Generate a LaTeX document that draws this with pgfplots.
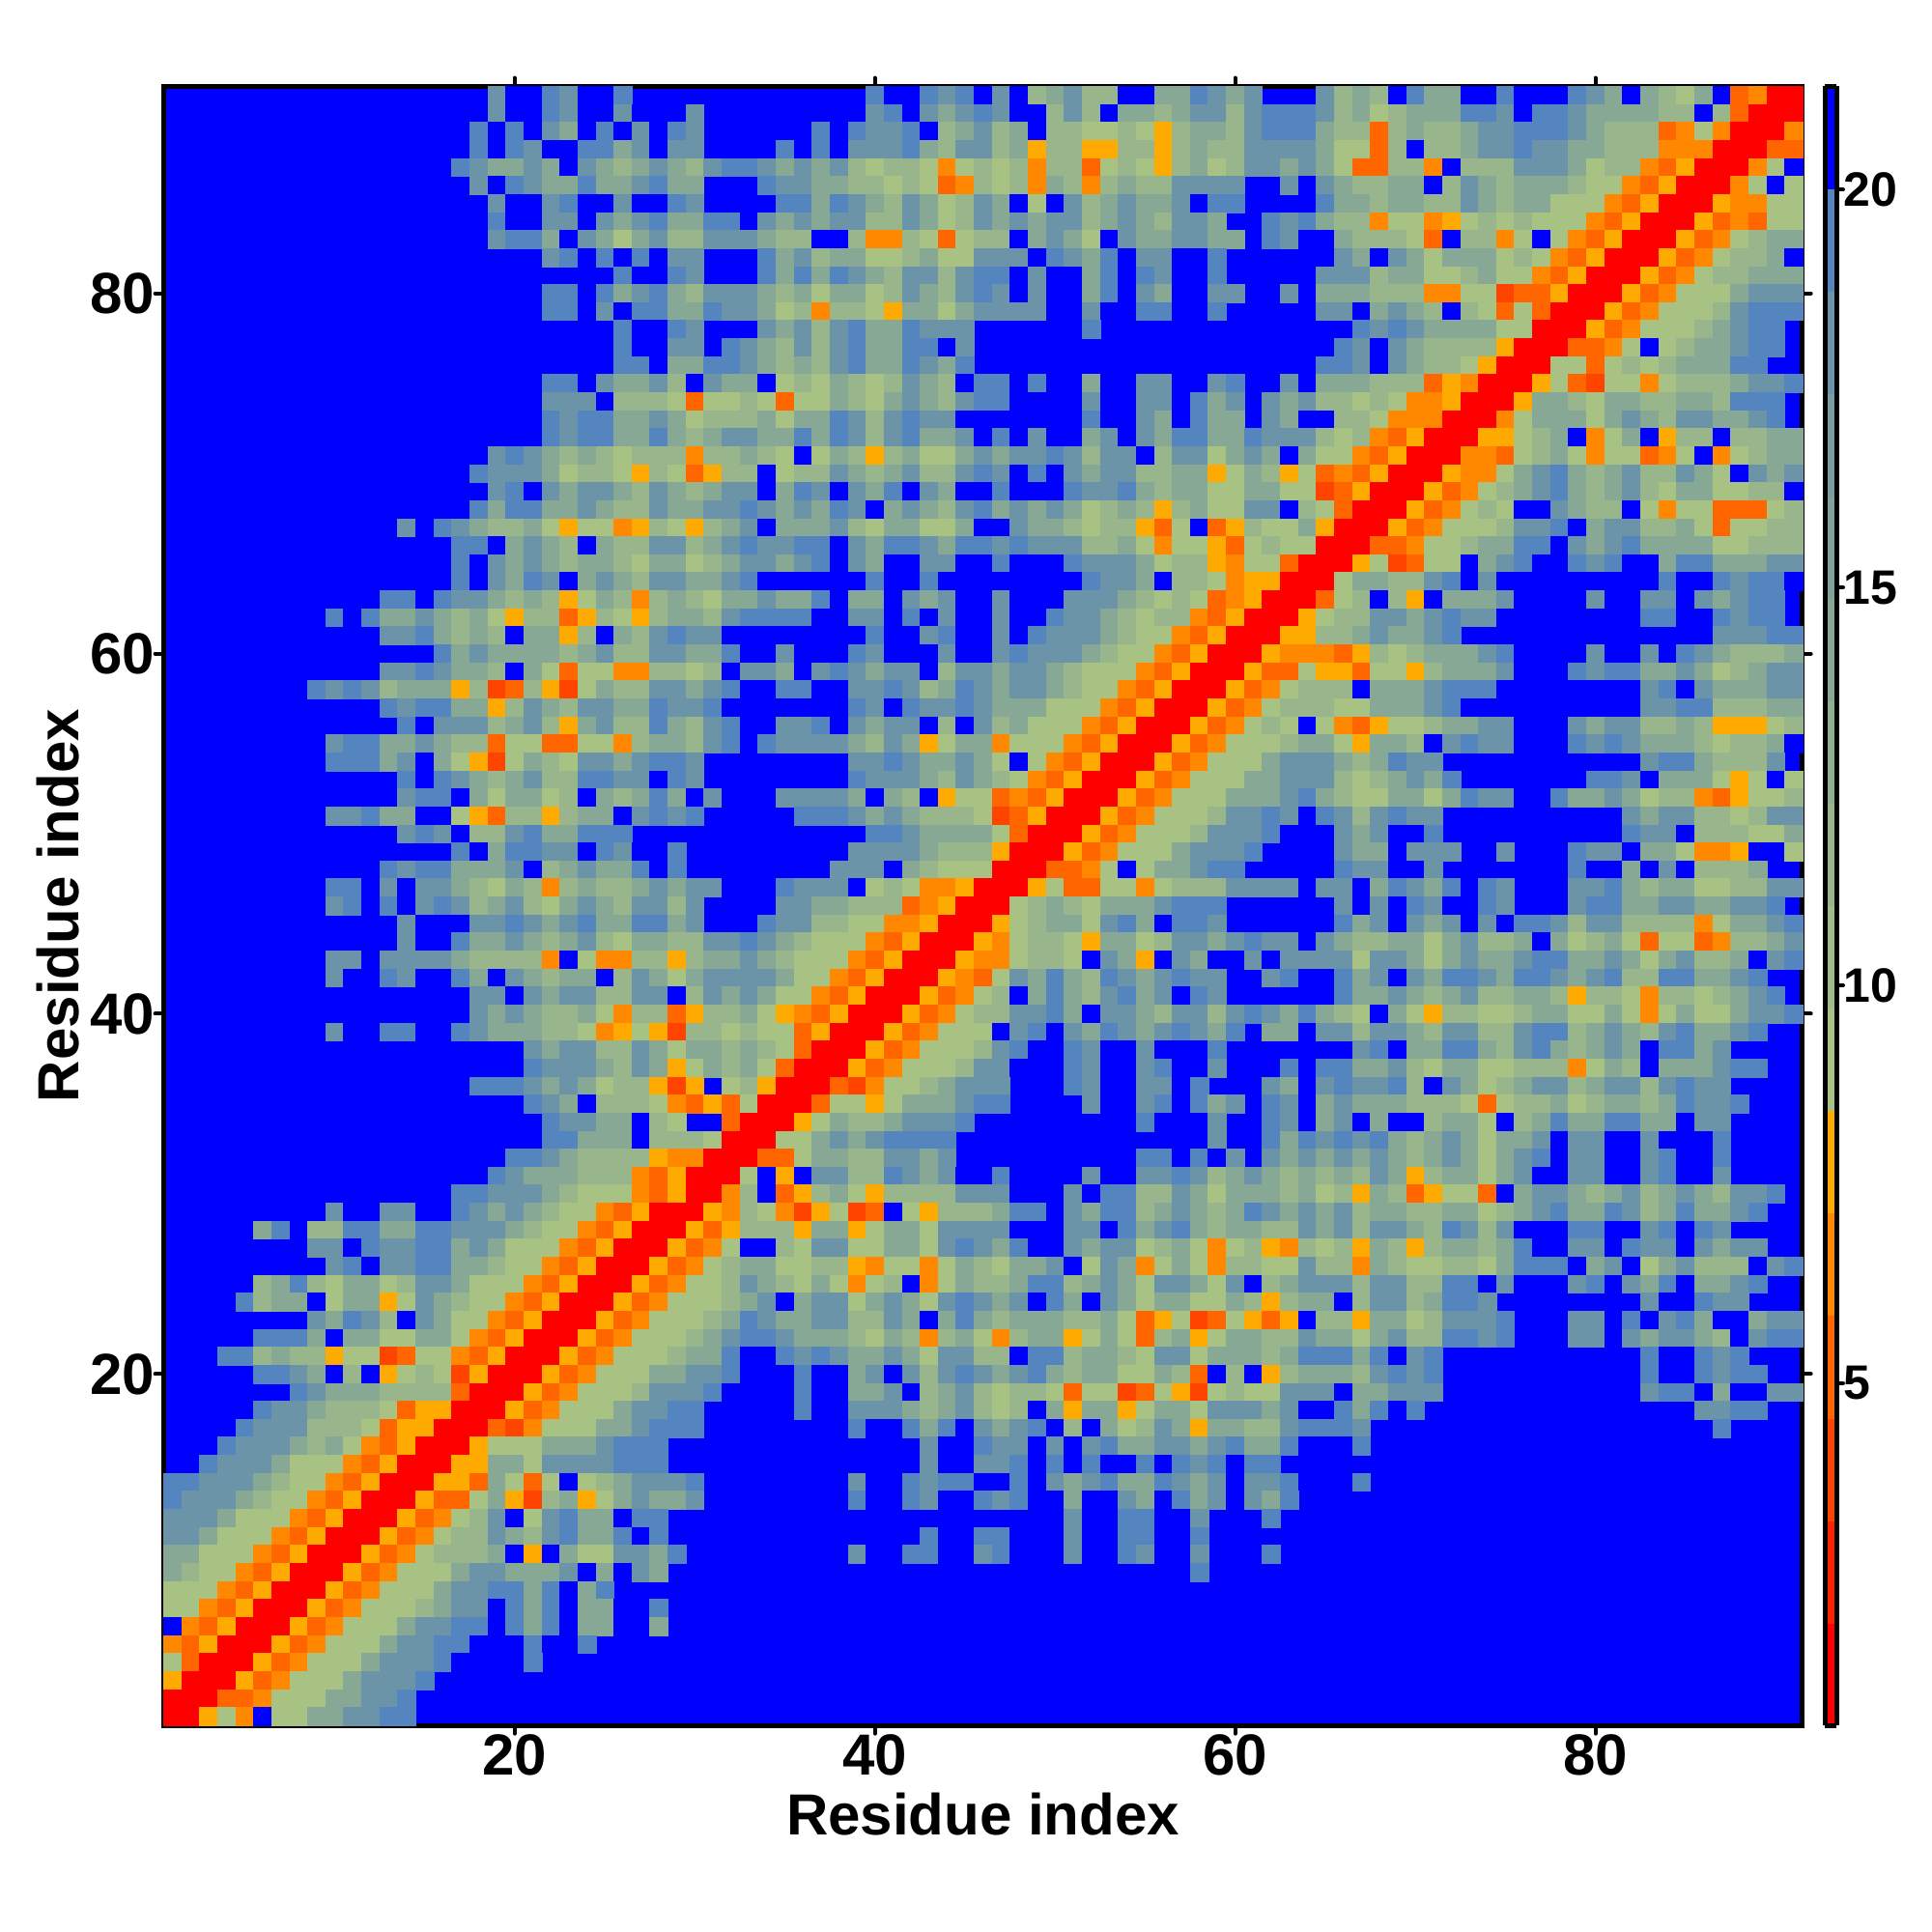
\documentclass[border=0pt]{standalone}
\usepackage{fontspec}
\setmainfont{Liberation Sans}
\usepackage{pgfplots}
\pgfplotsset{compat=1.18}

% one run of cells of a row: \R{residue y}{first residue x}{values}
% cells not listed are > 20 and show the blue axis background
\newcount\cx
\def\Rloop#1 {\ifx\relax#1\else\xdef\pts{\pts(\the\cx,\ry)[#1]}\advance\cx by 1 \expandafter\Rloop\fi}
\newcommand\R[3]{\def\ry{#1}\cx=#2\relax\gdef\pts{}\Rloop#3 \relax {}%
  \edef\cmd{\noexpand\addplot[cell] coordinates {\pts};}\cmd}

\pgfplotsset{
  cell/.style={forget plot, scatter, only marks, mark=square*, mark size=2.80pt,
    scatter/use mapped color={draw=mapped color, fill=mapped color},
    point meta=explicit, mark options={line width=0.1pt}},
}
\definecolor{fold}{RGB}{0,0,255}

\begin{document}
\begin{tikzpicture}
\path[use as bounding box] (-50.76pt,-64.2pt) rectangle ++(600pt,600pt);
\begin{axis}[
  at={(0,0)}, anchor=south west,
  scale only axis, width=509.04pt, height=509.04pt,
  xmin=0.5, xmax=91.5, ymin=0.5, ymax=91.5,
  axis on top,
  axis background/.style={fill=fold},
  axis line style={line width=1.5pt},
  xtick={20,40,60,80}, ytick={20,40,60,80},
  tick align=outside, tick pos=both,
  xticklabel pos=bottom, yticklabel pos=left,
  major tick length=2.6pt,
  tick style={line width=1.2pt, line cap=round, black},
  /pgf/number format/assume math mode=true,
  tick label style={font=\bfseries\fontsize{18}{18}\selectfont, inner sep=0pt},
  label style={font=\bfseries\fontsize{18}{18}\selectfont, inner sep=0pt},
  xlabel={Residue index}, ylabel={Residue index},
  xlabel style={at={(axis description cs:0.5,0)}, anchor=north, yshift=-20.8pt},
  ylabel style={at={(axis description cs:0,0.5)}, anchor=south, yshift=25.9pt},
  colormap={contact}{
    rgb255=(255,0,0) rgb255=(255,34,0) rgb255=(255,68,0) rgb255=(255,102,0)
    rgb255=(255,136,0) rgb255=(255,170,0) rgb255=(168,194,132) rgb255=(160,188,136)
    rgb255=(152,181,140) rgb255=(144,174,145) rgb255=(136,168,150) rgb255=(128,162,154)
    rgb255=(120,156,159) rgb255=(108,148,168) rgb255=(85,133,190) rgb255=(0,0,255)},
  colormap access=piecewise constant,
  point meta min=0.7, point meta max=21.3,
  colorbar sampled,
  colorbar style={
    samples=17,
    at={(1.01375,0)}, anchor=south west,
    width=3.6pt, height=509.04pt,
    axis line style={line width=1.5pt},
    ytick={5,10,15,20}, yticklabel pos=right, ytick pos=right,
    tick align=outside, major tick length=2pt,
    tick style={line width=1.2pt, line cap=round, black},
    /pgf/number format/assume math mode=true,
    yticklabel style={font=\bfseries\fontsize{15}{15}\selectfont, inner sep=0pt},
  },
]
\R{91}{19}{18 21 21 19 18 21 21 19}
\R{91}{40}{19 21 21 19 18 19 21 18 21 11 14 18 11 11 21 21 14 14 19 18 14 18}
\R{91}{65}{18 11 14 11 21 19 14 14 21 21 19 21 21 21 19 18 14 21 14 11 9 14 21 5 7 1 1}
\R{90}{19}{18 21 21 19 18 21 21 18 21 21 21 18}
\R{90}{40}{18 19 21 18 14 18 19 18 21 21 11 18 11 21 14 14 11 14 18 18 11 18}
\R{90}{62}{19 19 19 18 11 14 9 11 14 14 14 19 19 18 21 19 19 18 14 14 14 14 11 11 21 11 5 1 1 1}
\R{89}{18}{19 21 19 21 18 14 21 19 21 18 21 19 18}
\R{89}{37}{19 21 19 18 18 19 21 11 14 18 11 14 21 11 11 9 9 11 9 8 11 14 14 11 18}
\R{89}{62}{19 19 19 14 11 11 5 11 14 11 11 14 18 18 19 19 19 18 14 11 11 11 5 7 9 7 1 1 1 7}
\R{88}{18}{19 21 19 18 21 21 19 19 14 18 21 18 18}
\R{88}{35}{19 21 19 21 18 18 18 19 14 11 18 18 11 14 8 11 11 8 8 11 11 8 11 14 11 11 18}
\R{88}{62}{18 18 18 14 9 9 5 11 21 11 11 14 18 18 19 18 18 14 14 11 11 11 7 7 7 1 1 1 5 5}
\R{87}{17}{19 18 14 14 18 14 21 18 14 11 14 18 14 11}
\R{87}{31}{18 19 19 18 14 18 14 18 11 9 11 11 9 7 9 11 9 11 7 11 11 5 9 11 9 8 11 14 9 11 18}
\R{87}{62}{18 14 18 14 9 5 5 11 11 7 21 11 11 11 18 18 18 14 9 11 11 7 5 8 1 1 1 7 9 21}
\R{86}{18}{18 21 19 18 14 14 19 14 14 18 19 14 14}
\R{86}{34}{19 18 18 14 14 11 11 9 11 9 5 7 11 9 11 7 14 11 7 11 14 11 11 18 18 18 18}
\R{86}{63}{18 21 18 14 11 11 14 14 21 11 18 14 11 14 14 14 11 9 9 7 5 8 1 1 1 7 9 21 9}
\R{85}{19}{18 21 21 18 19 21 21 18 21 21 19 18}
\R{85}{35}{19 19 14 19 18 14 11 18 14 9 11 18 14 21 9 21 18 11 14 18 14 14 18 21 19 19}
\R{85}{65}{19 14 14 11 14 14 11 11 18 14 11 14 14 9 9 9 7 5 8 1 1 1 8 7 7 9 9}
\R{84}{19}{19 21 21 18 18 21 18 14 18 19 14 14}
\R{84}{31}{19 19 21 18 14 18 14 18 18 11 11 18 14 9 11 18 14 18 14 18 18 11 14 18 14 11 18 18 14}
\R{84}{62}{19 18 19 14 11 11 7 9 9 7 8 9 11 9 11 9 9 9 7 5 8 1 1 1 8 5 7 5 9 9}
\R{83}{19}{18 19 19 14 21 18 14 9 14 18 11 11}
\R{83}{31}{18 18 18 14 11 11 21 21 11 7 7 11 9 5 9 11 11 21 14 18 14 9 21 18 14 14 18 18 14 14}
\R{83}{62}{19 18 21 21 14 11 11 11 9 5 21 11 11 7 9 21 9 7 5 8 1 1 1 8 5 7 9 11 14 14}
\R{82}{22}{18 19 21 19 21 19 21 18 18}
\R{82}{34}{19 14 18 11 14 14 9 9 11 14 9 9 18 18 18 21 19 18 14 19 21 18 18 21 21 19}
\R{82}{66}{18 14 21 18 14 9 14 14 14 9 11 9 7 5 8 1 1 1 8 5 7 9 11 11 14 21}
\R{81}{26}{19 21 21 19 18}
\R{81}{34}{19 14 19 14 19 18 14 11 18 18 11 18 19 19 21 18 21 21 14 19 21 19 18 21 21 19}
\R{81}{65}{18 18 18 11 14 14 9 9 11 14 9 9 7 5 8 1 1 1 8 5 7 9 11 11 14 14 14}
\R{80}{22}{19 19 21 19 14 18 19 14 11}
\R{80}{31}{18 18 18 14 11 14 9 14 14 9 11 18 14 11 18 19 18 21 18 21 21 14 19 21 18 14 21 21 18 18}
\R{80}{63}{18 21 14 14 14 11 11 11 7 7 9 9 4 5 5 8 1 1 1 8 5 7 9 9 9 14 18 18 18}
\R{79}{22}{19 19 21 18 21 19 19 14 14}
\R{79}{31}{19 18 18 14 9 11 7 11 11 9 8 14 14 9 14 18 18 18 18 21 21 18 21 21 19 19 21 21 19}
\R{79}{65}{18 18 21 14 18 14 11 21 11 9 5 9 5 1 1 1 8 5 7 9 9 9 11 18 19 19 19}
\R{78}{26}{19 21 21 19 18}
\R{78}{34}{18 14 18 11 18 19 14 14 19 18 18 18}
\R{78}{52}{19}
\R{78}{67}{19 18 19 18 14 14 14 14 9 9 1 1 1 8 5 7 9 9 9 11 14 18 19 19}
\R{77}{26}{19 21 21 18 18}
\R{77}{32}{19 18 14 11 18 11 18 19 14 14 19 19 21 18}
\R{77}{66}{19 18 21 18 14 11 11 11 11 8 1 1 1 5 5 7 9 21 9 11 14 14 18 19 19}
\R{76}{26}{19 19 21 14 14}
\R{76}{31}{19 19 18 14 11 14 11 18 19 14 14 19 18 14 19}
\R{76}{65}{19 19 18 21 18 14 11 11 9 8 1 1 1 9 9 5 9 11 9 11 14 14 14 19 19}
\R{75}{22}{19 19 21 18 14 14 18 11 21}
\R{75}{31}{18 14 14 21 9 11 9 14 11 9 11 18 14 11 21 19 19 21 19 21 21 14 21 21 18 18 21 21 18 19}
\R{75}{63}{18 21 14 14 14 11 11 11 5 8 7 1 1 1 8 9 5 4 9 9 7 9 11 11 11 14 18 18 19}
\R{74}{22}{18 18 18 21 11 11 11 9 5}
\R{74}{31}{9 9 11 9 5 9 9 14 11 9 14 18 14 11 18 19 19 21 21 21 21 18 21 21 18 18 21 19 14 18}
\R{74}{62}{18 14 18 11 11 9 11 9 7 7 8 1 1 1 8 14 14 11 9 14 14 11 11 14 14 11 19 19 19}
\R{73}{22}{19 18 19 19 14 14 18 14 9}
\R{73}{31}{11 11 11 14 9 14 14 19 18 11 18 19 18 18 21 21 21 21 21 21 21 19 21 21 18 14 21 19 14 14}
\R{73}{62}{18 14 21 21 11 11 9 7 7 7 1 1 1 7 9 14 14 14 9 14 18 14 11 18 18 14 14 18 19}
\R{72}{22}{19 18 19 19 14 14 19 14 11}
\R{72}{31}{14 18 18 14 14 19 14 19 18 11 18 19 14 14 18 21 19 21 18 21 21 14 18 21 18 14 19 19 14 14 19}
\R{72}{62}{18 18 18 11 9 11 7 5 8 1 1 1 8 8 9 11 14 21 7 9 14 21 8 11 11 21 11 11 14 14}
\R{71}{19}{18 19 18 14 11 14 11 9 11 11 11 7}
\R{71}{31}{11 11 14 11 9 21 9 14 11 8 11 14 9 9 14 18 14 18 18 19 18 11 18 18 21 11 18 18 9 14 18}
\R{71}{62}{14 21 14 9 9 7 5 8 1 1 1 7 7 5 9 11 14 9 7 9 9 5 7 9 21 7 9 11 14 14}
\R{70}{18}{19 18 18 18 14 9 11 11 9 8 11 9 5}
\R{70}{31}{8 11 11 21 9 11 11 18 14 11 14 18 11 11 18 19 18 21 19 21 18 14 18 18 11 11 14 14 8 9 14}
\R{70}{62}{11 8 9 5 7 5 8 1 1 1 8 7 7 9 14 18 19 14 11 14 18 11 11 18 14 9 21 18 14 18}
\R{69}{19}{18 19 21 18 14 18 18 14 11 18 14 11}
\R{69}{31}{14 18 18 21 14 19 18 21 18 14 19 21 18 14 21 21 19 21 21 21 19 18 18 19 14 11 14 14 9 9 14}
\R{69}{62}{14 9 9 4 5 8 1 1 1 8 5 7 9 11 14 18 19 14 11 14 18 11 9 14 14 9 9 11 11 21}
\R{68}{18}{19 14 19 19 14 14 18 14 11 11 18 14 14}
\R{68}{31}{18 18 19 18 14 18 14 19 18 21 14 18 14 11 18 19 14 18 14 18 14 9 11 14 11 8 11 14 9 9 18}
\R{68}{62}{18 21 11 9 5 1 1 1 8 5 7 9 11 9 21 21 18 14 11 11 21 9 7 9 9 5 5 5 9 11}
\R{67}{14}{18 21 19 18 14 11 11 14 9 8 9 9 7 8 11 9 8}
\R{67}{31}{11 14 18 21 14 14 14 18 11 9 14 14 9 9 14 21 21 18 14 14 11 9 11 11 8 5 9 21 5 8 11}
\R{67}{62}{9 9 14 8 1 1 1 8 5 7 9 9 9 11 18 18 19 21 14 18 18 11 11 14 9 5 9 9 11 11}
\R{66}{17}{19 19 21 14 18 14 11 21 14 11 11 18 18 11}
\R{66}{31}{14 18 19 18 18 19 19 21 18 14 19 19 18 14 19 19 18 19 18 18 18 11 11 14 9 7 9 9 8 5 9}
\R{66}{62}{11 9 9 1 1 1 5 5 7 9 9 11 14 14 19 19 21 18 14 18 19 14 14 14 14 9 9 11 11 11}
\R{65}{17}{19 21 18 14 18 14 11 14 14 11 9 14 14 9}
\R{65}{31}{11 14 18 18 14 18 19 21 18 14 21 21 18 18 21 21 19 21 21 21 19 18 18 18 14 9 11 11 8 7 9}
\R{65}{62}{9 5 1 1 1 8 9 4 5 9 9 21 14 18 19 21 21 19 18 19 21 21 14 19 19 14 14 14 18 18}
\R{64}{17}{19 21 18 14 19 18 21 14 18 14 11 18 18 14}
\R{64}{31}{14 18 19 21 21 21 21 21 21 19 21 21 19 21 21 21 21 21 21 21 21 19 18 18 14 21 11 11 9 7 8}
\R{64}{62}{8 1 1 1 9 14 14 11 11 18 19 21 18 21 21 21 21 21 21 21 21 21 19 21 21 19 18 19 19 21}
\R{63}{13}{19 19 21 19 18 18 14 11 14 11 8 9 14 11 7 11 14 11}
\R{63}{31}{9 14 14 18 14 14 19 21 14 14 21 18 14 18 21 21 18 21 21 21 18 18 18 14 11 9 11 9 5 7 8}
\R{63}{62}{1 1 1 5 9 11 21 11 8 21 14 14 14 18 21 21 21 21 18 21 21 18 18 21 18 14 18 19 19}
\R{62}{10}{19 21 19 14 14 18 14 11 14 9 8 11 11 5 8 11 9 8 11 14 14}
\R{62}{31}{11 18 19 19 19 19 21 21 18 18 21 19 21 18 21 21 18 21 21 19 18 18 14 11 9 11 11 7 5 8 1}
\R{62}{62}{1 1 8 9 11 11 18 18 14 18 19 18 18 21 21 21 21 21 21 21 21 19 19 21 21 19 18 19 19}
\R{61}{13}{18 18 19 14 11 14 11 21 14 14 8 11 21 14 11 18 19 18}
\R{61}{31}{18 21 21 21 21 21 21 21 21 19 21 21 18 19 21 21 18 21 19 18 18 18 14 11 9 9 7 5 8 1 1}
\R{61}{62}{1 8 8 11 11 14 18 14 14 18 19}
\R{61}{87}{18 18 18 19 19}
\R{60}{16}{19 14 18 14 14 14 14 11 14 18 11 11 18 18 14}
\R{60}{31}{14 19 21 21 18 21 21 21 19 18 21 21 21 18 21 21 18 19 18 18 18 14 11 9 9 7 5 8 1 1 1}
\R{60}{62}{8 7 7 7 5 8 11 9 11 14 14 14 18 19 21 21 21 21 18 21 21 18 21 19 18 14 11 11 11 14}
\R{59}{13}{18 18 19 18 14 14 11 21 14 9 5 9 9 7 7 11 11 9}
\R{59}{31}{11 21 18 18 14 21 18 19 18 14 18 18 21 11 18 18 14 18 18 14 11 9 9 9 7 5 8 1 1 1 8}
\R{59}{62}{5 5 9 8 8 5 9 9 8 11 14 14 14 18 21 21 21 19 18 19 19 14 14 18 14 9 11 14 18 18}
\R{58}{9}{19 18 19 18 11 14 14 14 8 11 4 5 11 8 4 9 14 11 11 18 18 14}
\R{58}{31}{18 19 21 21 19 19 21 21 18 18 19 18 11 14 19 18 14 18 18 14 11 9 9 7 5 8 1 1 1 8 5}
\R{58}{62}{7 9 11 11 11 21 14 14 14 18 19 19 19 21 21 21 21 21 21 21 21 18 19 21 18 14 14 14 18 18}
\R{57}{13}{19 18 19 19 14 14 8 11 18 14 11 18 18 14 14 19 18 18}
\R{57}{31}{19 21 21 21 21 21 21 21 19 18 21 19 18 18 19 18 14 14 14 9 9 9 7 5 8 1 1 1 8 5 7}
\R{57}{62}{9 11 11 11 9 9 14 14 14 18 19 21 21 21 21 21 21 21 21 21 21 18 18 19 19 11 11 11 14 14}
\R{56}{14}{19 21 18 18 18 11 14 18 11 8 14 18 11 11 19 14 11}
\R{56}{31}{18 19 21 21 18 18 19 21 18 14 18 18 21 11 21 18 11 14 9 9 9 7 5 8 1 1 1 8 5 7 9}
\R{56}{62}{11 9 21 9 7 5 8 9 9 11 14 14 18 18 21 21 21 18 14 18 18 11 11 14 11 8 8 8 9 11}
\R{55}{10}{18 19 19 14 14 18 14 11 11 5 9 9 5 5 9 9 7 11 14 14 11}
\R{55}{31}{18 19 21 19 18 18 18 18 14 11 18 14 8 9 14 14 7 9 9 9 7 5 8 1 1 1 8 5 7 9 9}
\R{55}{62}{9 11 14 14 9 8 14 14 11 21 18 19 18 18 21 21 21 19 18 19 18 14 14 14 11 9 11 11 14 21}
\R{54}{10}{19 19 19 14 18 21 14 9 8 4 9 14 11 9 18 18 14 18 19 19 18}
\R{54}{39}{18 18 19 18 14 14 18 14 9 21 9 7 5 8 1 1 1 8 5 7 9 9 9}
\R{54}{62}{14 18 18 18 14 11 14 19 18 18}
\R{54}{83}{18 19 19 14 11 11 11 18}
\R{53}{14}{19 21 19 18 14 11 14 18 11 11 19 19 18 18 21 19 18}
\R{53}{39}{19 18 18 18 14 11 18 14 11 9 7 5 8 1 1 1 8 5 7 9 9 9 14}
\R{53}{62}{14 18 18 18 11 9 11 14 18 14 19}
\R{53}{80}{19 19 18 21 14 14 14 9 8 9 21 9}
\R{52}{14}{18 19 19 21 14 9 14 14 9 11 21 14 11 14 19 14 21}
\R{52}{31}{18 21 21 21 18 18 18 18 14 21 14 11 21 8 9 9 5 7 5 8 1 1 1 8 5 7 9 9 9 14 14}
\R{52}{62}{14 18 19 14 11 9 9 14 14 9 14 19 18 18 21 21 19 14 14 18 14 9 11 11 7 5 8 9 9 11}
\R{51}{10}{18 18 19 14 14 21 21 9 8 5 11 11 8 11 14 14 21 18 19 18 19}
\R{51}{36}{19 19 19 18 14 18 14 11 11 11 9 4 5 8 1 1 1 8 5 7 9 9 9 11 18 18}
\R{51}{62}{19 18 21 19 18 11 18 19 18 18}
\R{51}{82}{18 14 18 18 11 11 9 11 18 18}
\R{50}{14}{18 19 18 21 11 11 18 19 14 14 19 19 19}
\R{50}{40}{19 19 18 14 14 14 14 9 5 1 1 1 8 5 7 9 9 9 11 18 18 18}
\R{50}{62}{19 21 21 21 18 14 18 21 21 19}
\R{50}{82}{19 18 18 21 11 11 11 9 9 14}
\R{49}{17}{19 21 14 19 19 18 18 21 19 18 21 21 19}
\R{49}{39}{18 18 18 18 14 11 11 11 8 1 1 1 8 5 7 9 9 9 14 18 18 18 19}
\R{49}{66}{18 14 14 21 18 18 18}
\R{49}{75}{18}
\R{49}{79}{19 18 18 21 14 14 9 7 7 8 21 21 9}
\R{48}{13}{19 18 19 19 14 14 14 18 21 11 14 18 14 14 19 21 19}
\R{48}{38}{18 18 18 21 14 11 9 9 9 1 1 1 5 5 7 9 21 9 14 14 18 19 19}
\R{48}{66}{19 18 18 21 21 18}
\R{48}{79}{19 21 21 14 21 18 21 11 11 11 14}
\R{47}{10}{19 19 21 18 21 18 18 14 11 9 14 11 7 11 14 11 11 14 18 14 18}
\R{47}{31}{18 21 21 21 19 18 18 18 21 9 11 9 7 7 8 1 1 1 8 9 5 5 9 9 7 9 11 11 11 18 18}
\R{47}{62}{18 18 21 18 18 21 14 19 18 14 19 21 19 18}
\R{47}{79}{18 18 19 14 11 14 14 9 9 11 11 18 18}
\R{46}{10}{18 19 21 19 21 18 19 18 11 14 18 11 9 14 18 14 11 18 18 11 18}
\R{46}{35}{18 18 14 14 11 11 11 5 7 8 1 1 1 9 11 14 11 9 14 14 14 18 19 19 19}
\R{46}{66}{18 21 18 21 19 18 21 21 19 18}
\R{46}{79}{18 19 19 14 14 18 18 14 14 18 18 19}
\R{45}{14}{18 21 21 21 18 18 19 18 14 18 19 14 14 19 19 14 18}
\R{45}{34}{19 18 18 11 11 9 9 7 7 8 1 1 1 8 9 11 14 14 9 18 19 14 21 19 19 18}
\R{45}{66}{19 14 18 21 18 14 18 21 18 21 19 19 18 11 18 18 11 11 11 11 7 9 14 14 18 19}
\R{44}{14}{18 21 21 19 14 14 18 14 11 14 18 11 9 14 14 11 11}
\R{44}{31}{18 18 19 18 14 11 9 9 9 7 5 8 1 1 1 8 7 9 11 11 9 8 14 14 9 11 18 18 14 18 19}
\R{44}{62}{18 18 21 18 14 11 11 14 14 9 14 18 11 11 14 21 14 9 11 14 9 5 9 9 5 7 11 11 14 18}
\R{43}{10}{18 18 21 18 18 18 18 14 11 11 11 11 7 21 9 7 7 11 11 8 11}
\R{43}{31}{14 14 18 14 11 9 9 9 7 5 8 1 1 1 8 7 7 9 11 11 9 21 18 14 8 21 18 14 21 21 18}
\R{43}{62}{21 18 18 18 18 9 18 18 14 9 14 18 14 14 18 19 19 14 14 18 14 9 14 18 11 11 14 21 18 19}
\R{42}{10}{18 21 21 19 18 21 21 19 14 21 18 14 11 14 14 21 11 18 14 9 14}
\R{42}{31}{18 18 18 18 14 9 9 7 5 8 1 1 1 8 7 5 9 18 14 19 14 11 19 18 14 18 19 18 18}
\R{42}{62}{18 19 21 21 19 14 18 21 18 14 19 19 18 14 19 19 18 14 18 19 11 11 19 19 14 14 18 19}
\R{41}{18}{18 18 21 18 14 18 18 11 11 18 18 21 11 14}
\R{41}{31}{18 14 18 14 9 9 7 5 8 1 1 1 8 5 7 9 11 21 14 19 14 11 18 19 14 18 21 19 18}
\R{41}{66}{19 14 14 18 14 11 14 18 11 11 14 14 11 8 11 11 9 7 11 11 9 11 14 18 19}
\R{40}{18}{18 14 18 14 11 11 14 9 7 11 11 5 8 11}
\R{40}{31}{11 11 14 9 8 7 5 8 1 1 1 8 5 7 9 11 11 18 18 19 14 21 18 18 14 11 18 18 11 18 19}
\R{40}{62}{18 14 19 14 11 9 21 14 9 8 11 11 9 9 11 14 14 9 9 14 9 7 9 14 9 9 14 18 18 19}
\R{39}{10}{18 21 21 19 19 21 21 19 18 14 14 14 11 11 9 7 8 9 8 4 11}
\R{39}{31}{11 9 11 9 9 5 8 1 1 1 8 5 7 9 9 9 21 18 19 21 18 14 19 18 14 18 19 18 14 19}
\R{39}{62}{14 14 21 18 18 11 18 18 14 11 18 18 11 11 18 19 19 11 14 18 14 11 18 19 14 14 18 19}
\R{38}{21}{18 14 18 18 11 11 18 14 9 14}
\R{38}{31}{14 11 14 11 9 5 1 1 1 8 5 7 9 9 9 11 18 19 21 21 19 18 21 21 18 21 21 21 19}
\R{38}{67}{18 19 21 14 14 19 19 14 11 18 19 14 11 14 18 14 21 19 19 14 18}
\R{37}{21}{19 18 18 18 14 11 18 14 8 9}
\R{37}{31}{14 11 14 9 5 1 1 1 8 5 7 9 9 9 11 18 18 21 21 21 19 18 21 21 18 19 21 21 18}
\R{37}{63}{19 21 19 19 14 14 18 11 9 14 14 9 9 11 11 11 7 9 14 11 21 14 14 14 18 19 19}
\R{36}{18}{19 19 19 18 14 18 14 9 11 11 8 4 8}
\R{36}{32}{9 11 8 1 1 1 5 4 7 9 9 11 14 18 18 18}
\R{36}{51}{19 18 21 21 18 18 21 19}
\R{36}{62}{18 14 21 18 19 18 18 19 11 21 18 14 9 11 14 18 18 11 14 18 18 11 18 19 18 18}
\R{35}{21}{19 18 14 21 11 11 11 9 7 5}
\R{35}{31}{8 5 9 1 1 1 5 9 9 8 9 14 14 14 18 19 19}
\R{35}{52}{18 21 21 18 19 21 19 14 18}
\R{35}{62}{19 18 21 14 18 14 14 14 11 11 11 9 5 9 11 11 14 9 11 14 14 11 14 19 18 18 19}
\R{34}{22}{19 18 18 14 14 21 11 9}
\R{34}{32}{5 1 1 1 8 9 14 11 11 14 18 18 18 19}
\R{34}{55}{19 21 21 21 18}
\R{34}{62}{19 18 21 14 18 21 14 21 21 11 14 14 9 21 11 14 19 14 14 19 19 14 14 21 18 18}
\R{33}{22}{19 19 14 14 14 21 11 11 11}
\R{33}{31}{9 1 1 1 9 9 14 18 14 18 19 19 19 19}
\R{33}{59}{18}
\R{33}{62}{19 14 19 18 19 18 19 14 11 14 18 14 9 14 14 18 21 18 18 21 21 18 21 21 21 19}
\R{32}{20}{19 19 18 14 11 11 11 11 8 7 7}
\R{32}{31}{1 1 1 5 5 9 14 14 11 11 18 18 14 18}
\R{32}{55}{19 19 21 19 21 18}
\R{32}{62}{18 14 18 14 18 14 18 14 11 14 18 14 9 14 18 19 21 18 18 21 21 18 19 21 21 19}
\R{31}{19}{19 18 14 14 14 11 11 11 7 5 8 1}
\R{31}{31}{1 1 9 21 8 21 18 18 11 11 19 18 14 18 21 21 19 21 21 21 21 18 21 21 18 18 19 18 11 14 18}
\R{31}{62}{14 11 14 11 14 11 18 14 8 11 14 14 9 14 18 21 21 18 18 21 21 18 19 21 21 18}
\R{30}{17}{19 19 18 18 18 14 11 9 9 9 7 5 8 1}
\R{30}{31}{1 7 11 21 5 8 11 14 9 8 11 11 11 11 18 18 18 21 21 21 18 21 19 19 11 11 18 14 9 14 14}
\R{30}{62}{14 11 14 9 11 8 14 11 5 8 9 9 5 21 14 18 18 14 11 14 18 11 14 18 14 11 18 18 19}
\R{29}{10}{18 21 21 18 18 21 21 19 18 14 18 14 11 9 9 7 5 8 1 1 1}
\R{29}{31}{8 7 11 9 7 4 8 9 4 5 21 9 8 11 11 11 14 19 19 21 18 14 19 19 11 14 18 14 11 14 19}
\R{29}{62}{18 14 18 14 18 11 14 14 11 11 14 14 9 11 14 18 19 14 14 19 18 11 14 19 14 14 18 19}
\R{28}{6}{14 19 21 11 11 19 19 14 14 19 19 18 18 18 14 11 9 9 7 5 8 1 1 1 8}
\R{28}{31}{5 8 11 11 11 8 14 14 8 9 14 14 9 18 18 18 18 21 21 21 18 18 21 19 14 18 19 14 11 14 14}
\R{28}{62}{11 11 18 14 18 11 18 18 14 11 19 18 11 18 21 21 21 19 19 21 21 18 19 21 19 18}
\R{27}{9}{18 18 21 19 18 18 19 19 14 18 14 9 9 9 7 5 8 1 1 1 8 5}
\R{27}{31}{7 9 21 21 11 9 18 18 9 9 14 14 9 18 19 18 14 19 21 21 18 14 18 18 9 11 14 9 7 9 11}
\R{27}{62}{8 7 11 9 11 8 14 11 8 11 14 14 11 14 19 21 21 18 18 21 19 18 18 21 18 14 18 18}
\R{26}{10}{18 19 21 18 18 19 19 14 14 11 9 9 7 5 8 1 1 1 8 5 7}
\R{26}{31}{9 11 14 14 9 9 11 11 8 7 9 9 7 9 14 11 9 14 14 18 21 9 18 14 7 9 14 9 7 11 11}
\R{26}{62}{9 9 18 11 11 7 14 11 9 9 11 11 9 14 19 19 19 21 14 18 21 9 14 18 11 11 11 21 18 19}
\R{25}{6}{11 14 19 11 9 14 14 9 11 18 18 14 9 9 9 7 5 8 1 1 1 8 5 7 9}
\R{25}{31}{9 11 18 14 11 9 14 9 7 9 11 21 7 9 14 11 11 14 19 19 11 14 18 14 9 18 18 14 9 18 21}
\R{25}{62}{11 14 18 18 18 11 18 18 11 11 19 19 21 18 21 21 21 18 19 21 18 14 19 21 14 14 18 19}
\R{24}{5}{19 11 14 14 21 9 14 14 8 9 18 14 11 9 9 7 5 8 1 1 1 8 5 7 9 9}
\R{24}{31}{9 11 14 18 21 14 18 18 9 14 18 14 9 18 19 18 14 18 21 19 14 21 18 14 9 14 14 9 9 14 11}
\R{24}{62}{8 11 14 14 21 11 18 18 11 14 19 19 18}
\R{24}{83}{18 21 21 19 18 18}
\R{23}{9}{18 14 19 18 11 21 18 14 9 9 7 5 8 1 1 1 8 5 7 9 9 9}
\R{23}{31}{11 14 19 18 14 14 18 18 11 11 18 14 21 14 19 14 11 14 14 14 11 11 14 9 5 8 9 4 5 9 8}
\R{23}{62}{5 8 21 11 11 8 14 14 9 11 18 18 18 19}
\R{23}{79}{18 18 21 19 21 18 19 14 21 21 14 18 18}
\R{22}{6}{19 19 19 14 21 14 14 9 9 14 14 9 7 5 8 1 1 1 8 5 7 9 9 9 11}
\R{22}{31}{14 18 19 19 18 14 14 14 11 9 14 11 7 11 14 9 7 11 14 14 8 9 14 9 5 11 14 8 9 14 14}
\R{22}{62}{11 11 18 14 14 9 14 18 11 11 19 19 18 19}
\R{22}{79}{18 18 21 18 14 18 18 14 11 21 18 19 19}
\R{21}{4}{19 19 11 14 11 11 8 9 9 4 5 9 9 7 5 8 1 1 1 8 5 7 9 9 9 11 14}
\R{21}{31}{14 19 21 21 19 18 19 18 14 14 18 14 9 18 18 11 11 21 19 19 11 14 14 11 9 18 18 9 14 14 14}
\R{21}{62}{11 14 19 19 19 14 19 21 18 19}
\R{21}{83}{19 21 21 19 18 19}
\R{20}{6}{19 19 18 14 21 11 21 8 9 11 9 4 8 1 1 1 8 5 7 9 9 9 14 14 18}
\R{20}{31}{18 19 21 21 21 19 21 21 14 18 21 18 11 18 19 18 14 18 19 14 11 14 14 9 9 14 11 5 21 11 21}
\R{20}{62}{8 11 14 14 14 11 18 19 18 19}
\R{20}{83}{19 21 21 19 18 19 19}
\R{19}{8}{19 18 14 14 14 11 11 11 11 5 1 1 1 8 5 7 9 9 9 11 18 18 18}
\R{19}{31}{19 21 21 21 21 19 21 21 14 14 18 21 11 14 18 11 9 11 11 9 5 9 9 4 5 9 8 4 9 11 9}
\R{19}{62}{9 18 18 18 21 14 14 18 18 18}
\R{19}{83}{18 19 19 21 14 21 21 18 18}
\R{18}{6}{19 18 18 14 11 11 11 9 5 8 8 1 1 1 8 5 7 9 9 9 14 18 18 19 19}
\R{18}{36}{19 21 21 18 18 18 14 11 14 18 11 9 11 21 14 8 14 14 8 9 14 14 9 18 18 18}
\R{18}{62}{14 18 21 21 19 14 19 21 19}
\R{18}{86}{18 18 19 19}
\R{17}{5}{19 18 18 18 11 11 11 9 5 8 8 1 1 1 5 4 7 9 9 9 14 14 18 19 19 19}
\R{17}{39}{19 21 21 19 14 19 21 18 14 18 19 21 11 21 14 9 11 18 14 8 14 14 11}
\R{17}{62}{11 18 19 19 19 18}
\R{17}{87}{19}
\R{16}{4}{19 18 18 18 14 11 14 9 7 5 8 1 1 1 8 9 9 9 14 14 14 18 19 19 19}
\R{16}{43}{18 21 21 19 18 18 21 18 21 18 19 14 14 18 18 14 18 19 14}
\R{16}{62}{14 19 21 21 21 19}
\R{15}{3}{19 18 18 18 14 9 9 9 7 5 8 1 1 1 8 8 14 14 9 18 18 18 18 19 19 19}
\R{15}{43}{18 21 21 18 18 19 21 19 21 19 21 21 19 21 19 18 19 21 19}
\R{15}{62}{19}
\R{14}{1}{19 19 18 18 18 14 11 9 9 7 5 8 1 1 1 8 8 5 14 9 5 9 21 9 11 14 18 18 18 19}
\R{14}{39}{18 21 21 19 18 19 19 21 21 19 21 18 14 18 19 14 14 19 18 14 18 21 18}
\R{14}{62}{18 19 21 21 21 19}
\R{13}{1}{19 18 18 18 14 11 9 9 7 5 8 1 1 1 8 5 5 9 14 8 4 11 14 8 9 14 18 14 14 18}
\R{13}{39}{19 21 21 19 18 21 21 19 18 19 21 21 14 21 21 18 14 21 19 14 18 21 18}
\R{13}{62}{14 19}
\R{12}{1}{18 18 18 14 9 9 9 7 5 8 1 1 1 8 5 7 9 11 18 21 9 18 19 14 14 21 19 19}
\R{12}{51}{18 21 21 19 19 21 21 18}
\R{12}{62}{19}
\R{11}{1}{18 18 14 9 9 9 7 5 8 1 1 1 8 5 7 9 11 11 18 14 11 18 19 14 14 19 21 19}
\R{11}{43}{19 21 21 19 19 21 21 21 18 21 21 19 19 21 21 19}
\R{10}{1}{14 14 9 9 9 7 5 8 1 1 1 8 5 7 9 11 11 11 14 21 8 21 14 9 9 18 18 14 19}
\R{10}{39}{18 21 21 19 19 21 21 18 19 21 21 21 18 21 21 19 18 21 21 18}
\R{10}{62}{19}
\R{9}{1}{14 11 9 9 7 5 8 1 1 1 8 5 7 9 9 9 14 18 18 14 14 14 18 21 14 21 18 14}
\R{9}{58}{19}
\R{8}{1}{9 9 9 7 5 8 1 1 1 8 5 7 9 9 9 14 18 18 19 19 14 19 21 14 19}
\R{7}{1}{9 9 7 5 8 1 1 1 8 5 7 9 9 9 11 14 18 18 21 19 14 19 21 14 14 21 21 19}
\R{6}{1}{21 7 5 8 1 1 1 8 5 7 9 9 9 14 18 18 19 19 21 19 14 19 21 14 14 21 21 14}
\R{5}{1}{7 5 8 1 1 1 8 5 7 9 9 9 14 18 18 19 19 21 21 21 19 21 21 19}
\R{4}{1}{9 5 1 1 1 8 5 7 9 9 9 14 18 18 18 19 21 21 21 21 19}
\R{3}{1}{8 1 1 1 8 5 7 9 9 9 14 18 18 18 19}
\R{2}{1}{1 1 1 5 5 7 9 9 9 14 14 18 18 19}
\R{1}{1}{1 1 8 9 7 21 9 9 14 14 18 18 19 19}
\end{axis}
\end{tikzpicture}
\end{document}
